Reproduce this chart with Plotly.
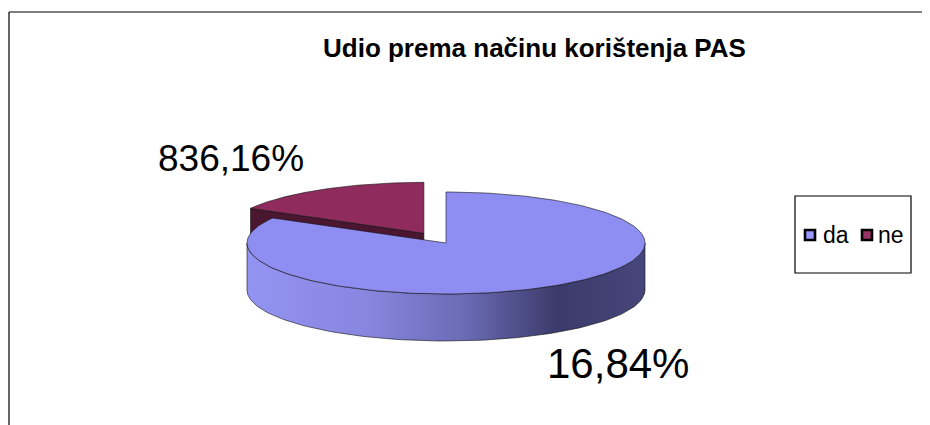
import numpy as np
import plotly.graph_objects as go

# ---- data ----
categories = ["da", "ne"]
values = [83.16, 16.84]
label_texts = ["16,84%", "836,16%"]
title_text = "Udio prema načinu korištenja PAS"

# ---- styling / geometry constants ----
top_colors = ["#8d8df2", "#8f2c5d"]
legend_colors = ["#9999ff", "#993366"]
cut_colors = ["#2e2e5a", "#4a1630"]
side_scales = [
    [[0, "#9393f2"], [0.3, "#8787e0"], [0.55, "#6a6ab4"], [0.78, "#3b3b6b"], [1, "#46467c"]],
    [[0, "#6a2245"], [1, "#3a1025"]],
]
CX, CY, RX, RY, DEPTH = 446, 243, 199, 51, 47
EXPLODE = [0.0, 0.22]
FONT = "Liberation Sans, Arial"
PAGE_MARGIN = 8  # default body margin of the html page

fig = go.Figure()


def pt(theta_deg, ox, oy, z=0.0):
    t = np.radians(theta_deg)
    return CX + ox + RX * np.sin(t), CY + oy - RY * np.cos(t) + z


total = float(sum(values))
starts, ends = [], []
acc = 0.0
for v in values:
    starts.append(acc / total * 360.0)
    acc += v
    ends.append(acc / total * 360.0)


def offset(i):
    mid = np.radians((starts[i] + ends[i]) / 2.0)
    return (EXPLODE[i] * RX * np.sin(mid), -EXPLODE[i] * RY * np.cos(mid))


def draw_slice(i, show_cut):
    a0, a1 = starts[i], ends[i]
    ox, oy = offset(i)
    vx, vy = CX + ox, CY + oy
    if show_cut:
        rx_, ry_ = pt(a0, ox, oy)
        xs = [vx, rx_, rx_, vx, vx]
        ys = [vy, ry_, ry_ + DEPTH, vy + DEPTH, vy]
        fig.add_trace(go.Scatter(x=xs, y=ys, fill="toself", mode="lines",
                                 fillcolor=cut_colors[i],
                                 line=dict(color="#111111", width=0.6),
                                 hoverinfo="skip", showlegend=False))
    # front side wall (angles between 90 and 270)
    lo, hi = max(a0, 90.0), min(a1, 270.0)
    if hi > lo:
        th = np.linspace(lo, hi, 120)
        tx, ty = pt(th, ox, oy)
        bx, by = pt(th[::-1], ox, oy, DEPTH)
        xs = np.concatenate([tx, bx, tx[:1]])
        ys = np.concatenate([ty, by, ty[:1]])
        fig.add_trace(go.Scatter(x=xs, y=ys, fill="toself", mode="lines",
                                 fillgradient=dict(type="horizontal", colorscale=side_scales[i]),
                                 line=dict(color="#111111", width=0.6),
                                 hoverinfo="skip", showlegend=False))
    # top face
    th = np.linspace(a0, a1, 240)
    tx, ty = pt(th, ox, oy)
    xs = np.concatenate([[vx], tx, [vx]])
    ys = np.concatenate([[vy], ty, [vy]])
    fig.add_trace(go.Scatter(x=xs, y=ys, fill="toself", mode="lines",
                             fillcolor=top_colors[i],
                             line=dict(color="#111111", width=0.6),
                             hoverinfo="skip", showlegend=False))


# draw the back (exploded) slice first, then the front one
draw_slice(1, True)
draw_slice(0, False)

# legend (box, swatches, names)
LEG_Y = 235
leg_sw_x = [810, 867]
leg_tx_x = [821, 876]
fig.add_trace(go.Scatter(x=leg_sw_x, y=[LEG_Y] * len(categories), mode="markers",
                         marker=dict(symbol="square", size=10, color=legend_colors,
                                     line=dict(color="black", width=2.6)),
                         hoverinfo="skip", showlegend=False))
for name, tx in zip(categories, leg_tx_x):
    fig.add_annotation(x=tx, y=LEG_Y, text=name, showarrow=False, xanchor="left",
                       yanchor="middle", font=dict(family=FONT, size=23, color="black"))
fig.add_shape(type="rect", x0=795, y0=196, x1=911, y1=273, line=dict(color="black", width=1.2))

# data labels
label_pos = [(545, 363, 42), (156, 158, 37)]
for txt, (lx, ly, fs) in zip(label_texts, label_pos):
    fig.add_annotation(x=lx, y=ly, text=txt, showarrow=False, xanchor="left",
                       yanchor="middle", font=dict(family=FONT, size=fs, color="black"))

fig.add_annotation(x=534, y=48, text="<b>" + title_text + "</b>", showarrow=False,
                   xanchor="center", yanchor="middle",
                   font=dict(family=FONT, size=26, color="black"))

# frame lines
fig.add_shape(type="line", x0=9, y0=12, x1=940, y1=12, line=dict(color="#808080", width=2))
fig.add_shape(type="line", x0=9, y0=12, x1=9, y1=440, line=dict(color="black", width=1.2))

W, H = 930, 425
fig.update_layout(
    width=W - PAGE_MARGIN, height=H - PAGE_MARGIN,
    margin=dict(l=0, r=0, t=0, b=0, pad=0),
    paper_bgcolor="white", plot_bgcolor="white",
    xaxis=dict(range=[PAGE_MARGIN, W], visible=False, fixedrange=True),
    yaxis=dict(range=[H, PAGE_MARGIN], visible=False, fixedrange=True),
    showlegend=False,
)

fig.write_html("out.html")
